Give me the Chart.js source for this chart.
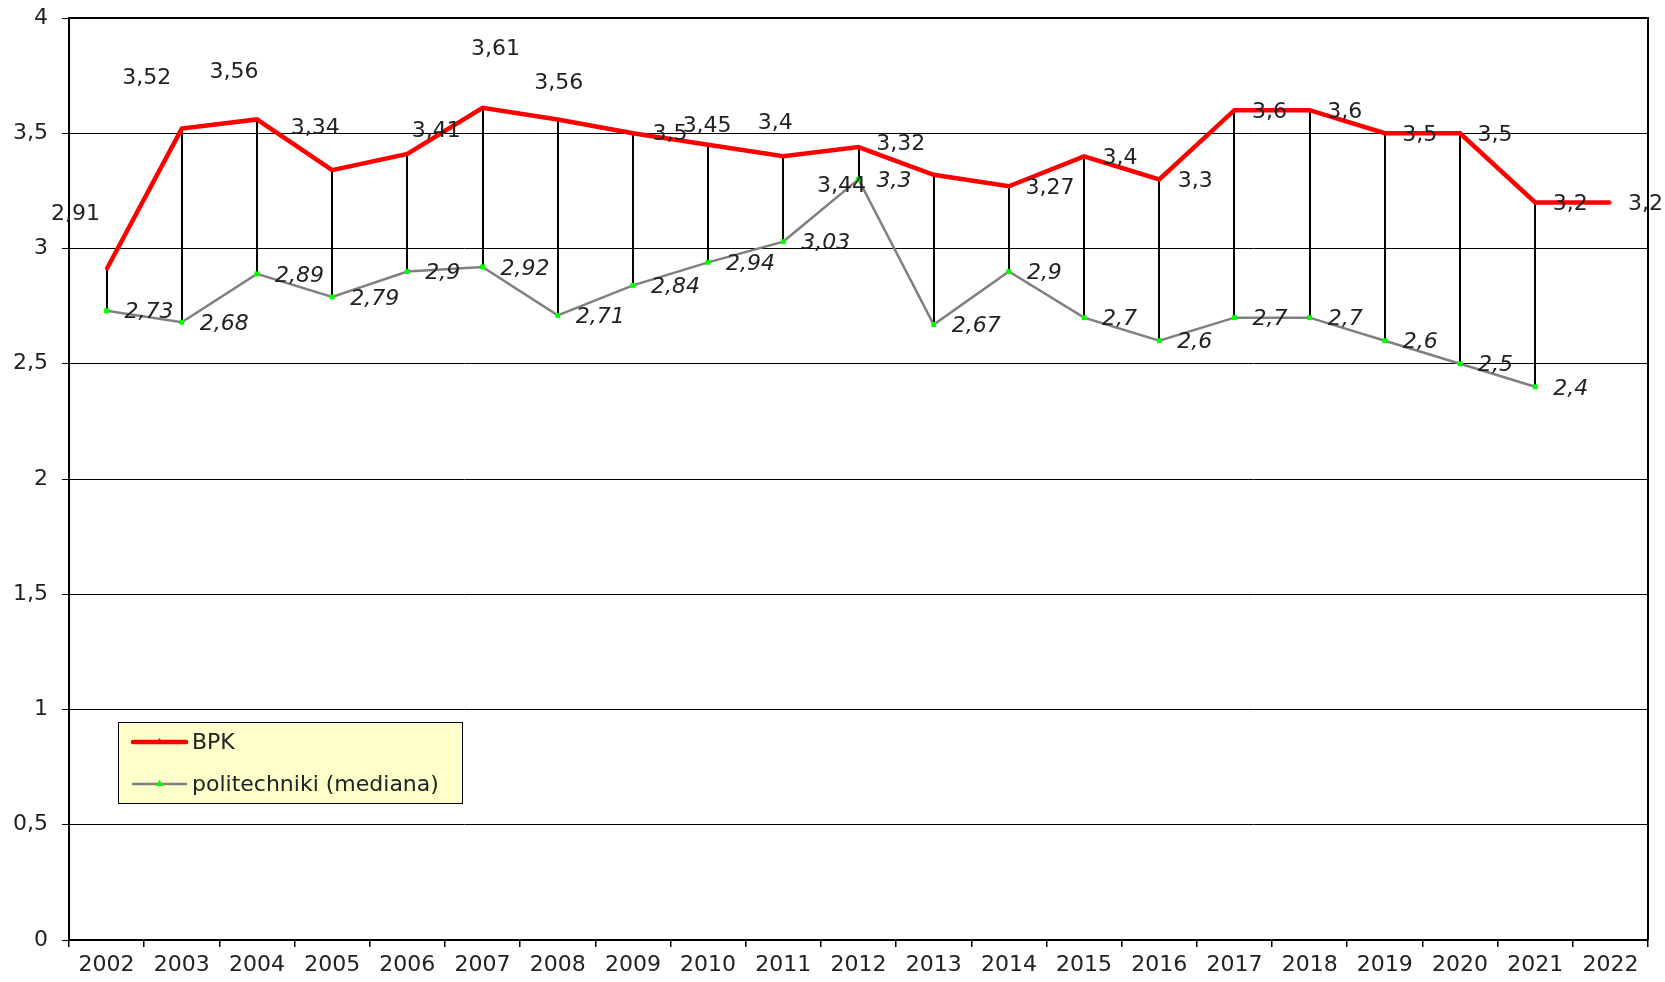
<!DOCTYPE html>
<html>
<head>
<meta charset="utf-8">
<script src="https://cdn.jsdelivr.net/npm/chart.js@4/dist/chart.umd.min.js"></script>
<style>
  body { margin: 0; background: #fff; }
  canvas { display: block; }
</style>
</head>
<body>
<canvas id="chart" width="1665" height="982"></canvas>
<script>
"use strict";

var years = ["2002", "2003", "2004", "2005", "2006", "2007", "2008", "2009", "2010", "2011",
  "2012", "2013", "2014", "2015", "2016", "2017", "2018", "2019", "2020", "2021", "2022"];
var bpkValues = [2.91, 3.52, 3.56, 3.34, 3.41, 3.61, 3.56, 3.5, 3.45, 3.4,
  3.44, 3.32, 3.27, 3.4, 3.3, 3.6, 3.6, 3.5, 3.5, 3.2, 3.2];
var poliValues = [2.73, 2.68, 2.89, 2.79, 2.9, 2.92, 2.71, 2.84, 2.94, 3.03,
  3.3, 2.67, 2.9, 2.7, 2.6, 2.7, 2.7, 2.6, 2.5, 2.4, null];
var yTicks = [0, 0.5, 1, 1.5, 2, 2.5, 3, 3.5, 4];

// label offsets (label centre relative to point), BPK labels were moved by hand in the original
var bpkLabelOffsets = [[-31, -55], [-35, -50], [-23, -47], [-17, -42], [29, -23], [13, -59],
  [1, -36], [37, 1], [-1, -18], [-8, -33], [-17, 39], [-33, -30], [41, 2], [36, 2],
  [36, 2], [35, 2], [35, 2], [35, 2], [35, 2], [35, 2], [35, 2]];

var FONT = "DejaVu Sans, Verdana, sans-serif";
var TEXT = "#222";
var FSIZE = 22;

function fmt(v) {
  return String(v).replace(".", ",");
}

var frame = {
  id: "frame",
  beforeDatasetsDraw(chart) {
    // high-low lines between the two series
    var ctx = chart.ctx;
    var a = chart.getDatasetMeta(0).data;
    var b = chart.getDatasetMeta(1).data;
    ctx.save();
    ctx.strokeStyle = "#000";
    ctx.lineWidth = 2;
    for (var i = 0; i < years.length; i++) {
      if (bpkValues[i] == null || poliValues[i] == null) continue;
      ctx.beginPath();
      ctx.moveTo(Math.round(a[i].x), a[i].y);
      ctx.lineTo(Math.round(b[i].x), b[i].y);
      ctx.stroke();
    }
    ctx.restore();
  },
  afterDraw(chart) {
    var ctx = chart.ctx;
    var ca = chart.chartArea;
    ctx.save();
    // top and right border of the plot
    ctx.strokeStyle = "#000";
    ctx.lineWidth = 2;
    ctx.beginPath();
    ctx.moveTo(ca.left, ca.top);
    ctx.lineTo(ca.right, ca.top);
    ctx.lineTo(ca.right, ca.bottom);
    ctx.stroke();

    // data labels
    ctx.fillStyle = TEXT;
    ctx.textBaseline = "middle";
    ctx.textAlign = "center";
    ctx.font = FSIZE + "px " + FONT;
    var a = chart.getDatasetMeta(0).data;
    for (var i = 0; i < bpkValues.length; i++) {
      if (bpkValues[i] == null) continue;
      var off = bpkLabelOffsets[i];
      ctx.fillText(fmt(bpkValues[i]), a[i].x + off[0], a[i].y + off[1]);
    }
    ctx.font = "italic " + FSIZE + "px " + FONT;
    ctx.textAlign = "left";
    var b = chart.getDatasetMeta(1).data;
    for (var j = 0; j < poliValues.length; j++) {
      if (poliValues[j] == null) continue;
      ctx.fillText(fmt(poliValues[j]), b[j].x + 18, b[j].y + 2);
    }

    // legend box
    var lx = 118, ly = 722, lw = 344, lh = 81;
    ctx.fillStyle = "#FFFFCC";
    ctx.fillRect(lx, ly, lw, lh);
    ctx.strokeStyle = "#000";
    ctx.lineWidth = 1;
    ctx.strokeRect(lx + 0.5, ly + 0.5, lw, lh);

    var rows = [
      { label: chart.data.datasets[0].label, color: "#FF0000", width: 4.5, marker: "#FF0000", y: ly + 20 },
      { label: chart.data.datasets[1].label, color: "#808080", width: 2.5, marker: "#00FF00", y: ly + 62 }
    ];
    rows.forEach(function (r) {
      ctx.strokeStyle = r.color;
      ctx.lineWidth = r.width;
      ctx.lineCap = "round";
      ctx.beginPath();
      ctx.moveTo(lx + 15, r.y);
      ctx.lineTo(lx + 68, r.y);
      ctx.stroke();
      ctx.fillStyle = r.marker;
      ctx.beginPath();
      ctx.moveTo(lx + 41.5, r.y - 4);
      ctx.lineTo(lx + 45.5, r.y + 2);
      ctx.lineTo(lx + 37.5, r.y + 2);
      ctx.closePath();
      ctx.fill();
      ctx.fillStyle = TEXT;
      ctx.font = FSIZE + "px " + FONT;
      ctx.textAlign = "left";
      ctx.fillText(r.label, lx + 74, r.y + 1);
    });
    ctx.restore();
  }
};

var ctx = document.getElementById("chart").getContext("2d");

new Chart(ctx, {
  type: "line",
  data: {
    labels: years,
    datasets: [
      {
        label: "BPK",
        data: bpkValues,
        borderColor: "#FF0000",
        borderWidth: 4.5,
        pointStyle: "triangle",
        pointRadius: 2,
        pointBackgroundColor: "#FF0000",
        pointBorderWidth: 0,
        tension: 0,
        clip: false
      },
      {
        label: "politechniki (mediana)",
        data: poliValues,
        borderColor: "#808080",
        borderWidth: 2.5,
        pointStyle: "rect",
        pointRadius: 3.5,
        pointBackgroundColor: "#00FF00",
        pointBorderWidth: 0,
        tension: 0,
        clip: false
      }
    ]
  },
  options: {
    responsive: false,
    animation: false,
    layout: { padding: { top: 18, right: 17, left: 0, bottom: 0 } },
    plugins: {
      legend: { display: false },
      tooltip: { enabled: false }
    },
    scales: {
      x: {
        type: "category",
        offset: true,
        afterFit(scale) {
          scale.height = 42;
          scale.paddingLeft = 0;
          scale.paddingRight = 0;
        },
        grid: {
          offset: true,
          drawOnChartArea: false,
          drawTicks: true,
          tickLength: 7,
          color: "#000",
          lineWidth: 1.5
        },
        border: { color: "#000", width: 2 },
        ticks: {
          color: TEXT,
          font: { family: FONT, size: FSIZE },
          padding: 5,
          maxRotation: 0,
          autoSkip: false
        }
      },
      y: {
        min: 0,
        max: 4,
        afterFit(scale) {
          scale.width = 69;
          scale.paddingTop = 0;
          scale.paddingBottom = 0;
        },
        afterBuildTicks(scale) {
          scale.ticks = yTicks.map(function (v) { return { value: v }; });
        },
        grid: {
          color: "#000",
          lineWidth: 1,
          drawTicks: true,
          tickLength: 7
        },
        border: { color: "#000", width: 2 },
        ticks: {
          color: TEXT,
          font: { family: FONT, size: FSIZE },
          padding: 14,
          callback: function (v) { return fmt(v); }
        }
      }
    }
  },
  plugins: [frame]
});
</script>
</body>
</html>
